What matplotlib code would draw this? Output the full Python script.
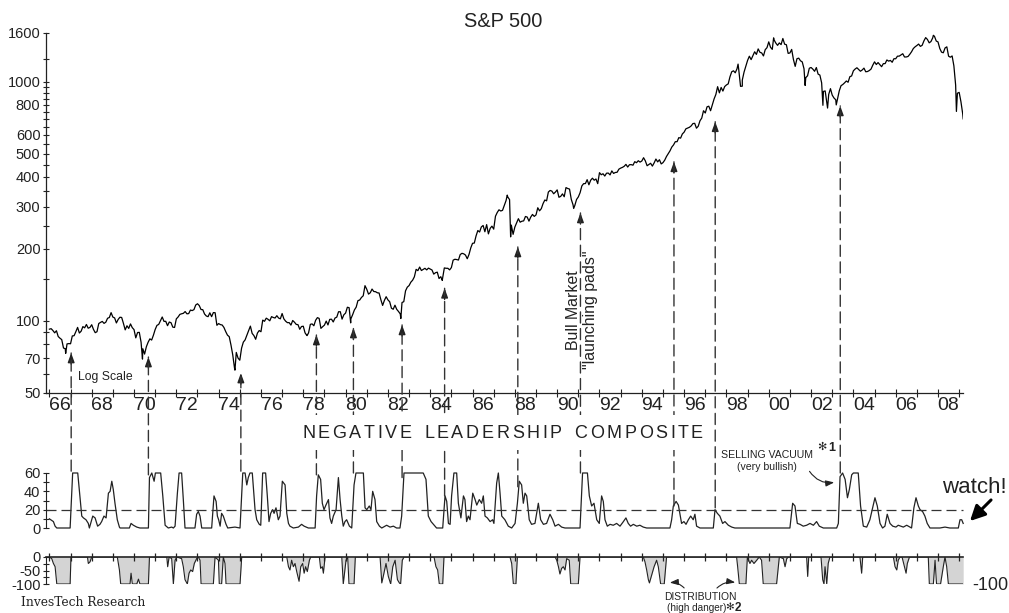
import numpy as np
import matplotlib
matplotlib.use("Agg")
import matplotlib.pyplot as plt
from matplotlib.patches import ConnectionPatch, Rectangle, FancyArrowPatch
from matplotlib.ticker import FixedLocator, FixedFormatter, NullFormatter

plt.rcParams['font.family'] = ['Liberation Sans', 'DejaVu Sans']
plt.rcParams['axes.unicode_minus'] = False

# S&P 500 month-end closes, Dec 1965 .. Feb 2009
sp_monthly = [
    92.43,
    92.88, 91.22, 89.23, 91.06, 86.13, 84.74, 83.60, 77.10, 76.56, 80.20, 80.45, 80.33,
    86.61, 86.78, 90.20, 94.01, 89.08, 90.64, 94.75, 93.64, 96.71, 93.30, 94.00, 96.47,
    92.24, 89.36, 90.20, 97.59, 98.68, 99.58, 97.74, 98.86, 102.67, 103.41, 108.37, 103.86,
    103.01, 98.13, 101.51, 103.69, 103.46, 97.71, 91.83, 95.51, 93.12, 97.24, 93.81, 92.06,
    85.02, 89.50, 89.63, 81.52, 76.55, 72.72, 78.05, 81.52, 84.21, 83.25, 87.20, 92.15,
    95.88, 96.75, 100.31, 103.95, 99.63, 99.70, 95.58, 99.03, 98.34, 94.23, 93.99, 102.09,
    103.94, 106.57, 107.20, 107.67, 109.53, 107.14, 107.39, 111.09, 110.55, 111.58, 116.67, 118.05,
    116.03, 111.68, 111.52, 106.97, 104.95, 104.26, 108.22, 104.25, 108.43, 108.29, 95.96, 97.55,
    96.57, 96.22, 93.98, 90.31, 87.28, 86.00, 79.31, 72.15, 63.54, 73.90, 69.97, 68.56,
    76.98, 81.59, 83.36, 87.30, 91.15, 95.19, 88.75, 86.88, 83.87, 89.04, 91.24, 90.19,
    100.86, 99.71, 102.77, 101.64, 100.18, 104.28, 103.44, 102.91, 105.24, 102.90, 102.10, 107.46,
    102.03, 99.82, 98.42, 98.44, 96.12, 100.48, 98.85, 96.77, 96.53, 92.34, 94.83, 95.10,
    89.25, 87.04, 89.21, 96.83, 97.24, 95.53, 100.68, 103.29, 102.54, 93.15, 94.70, 96.11,
    99.93, 96.28, 101.59, 101.76, 99.08, 102.91, 103.81, 109.32, 109.32, 101.82, 106.16, 107.94,
    114.16, 113.66, 102.09, 106.29, 111.24, 114.24, 121.67, 122.38, 125.46, 127.47, 140.52, 135.76,
    129.55, 131.27, 136.00, 132.81, 132.59, 131.21, 130.92, 122.79, 116.18, 121.89, 126.35, 122.55,
    120.40, 113.11, 111.96, 116.44, 111.88, 109.61, 107.09, 119.51, 120.42, 133.71, 138.54, 140.64,
    145.30, 148.06, 152.96, 164.42, 162.39, 168.11, 162.56, 164.40, 166.07, 163.55, 166.40, 164.93,
    163.41, 157.06, 159.18, 160.05, 150.55, 153.18, 150.66, 166.68, 166.10, 166.09, 163.58, 167.24,
    179.63, 181.18, 180.66, 179.83, 189.55, 191.85, 190.92, 188.63, 182.08, 189.82, 202.17, 211.28,
    211.78, 226.92, 238.90, 235.52, 247.35, 250.84, 236.12, 252.93, 231.32, 243.98, 249.22, 242.17,
    274.08, 284.20, 291.70, 288.36, 290.10, 304.00, 318.66, 329.80, 321.83, 251.79, 230.30, 247.08,
    257.07, 267.82, 258.89, 261.33, 262.16, 273.50, 272.02, 261.52, 271.91, 278.97, 273.70, 277.72,
    297.47, 288.86, 294.87, 309.64, 320.52, 317.98, 346.08, 351.45, 349.15, 340.36, 345.99, 353.40,
    329.08, 331.89, 339.94, 330.80, 361.23, 358.02, 356.15, 322.56, 306.05, 304.00, 322.22, 330.22,
    343.93, 367.07, 375.22, 375.35, 389.83, 371.16, 387.81, 395.43, 387.86, 392.45, 375.22, 417.09,
    408.79, 412.70, 403.69, 414.95, 415.35, 408.14, 424.21, 414.03, 417.80, 418.68, 431.35, 435.71,
    438.78, 443.38, 451.67, 440.19, 450.19, 450.53, 448.13, 463.56, 458.93, 467.83, 461.79, 466.45,
    481.61, 467.14, 445.77, 450.91, 456.50, 444.27, 458.26, 475.49, 462.69, 472.35, 453.69, 459.27,
    470.42, 487.39, 500.71, 514.71, 533.40, 544.75, 562.06, 561.88, 584.41, 581.50, 605.37, 615.93,
    636.02, 640.43, 645.50, 654.17, 669.12, 670.63, 639.95, 651.99, 687.33, 705.27, 757.02, 740.74,
    786.16, 790.82, 757.12, 801.34, 848.28, 885.14, 954.31, 899.47, 947.28, 914.62, 955.40, 970.43,
    980.28, 1049.34, 1101.75, 1111.75, 1090.82, 1133.84, 1120.67, 957.28, 1017.01, 1098.67, 1163.63, 1229.23,
    1279.64, 1238.33, 1286.37, 1335.18, 1301.84, 1372.71, 1328.72, 1320.41, 1282.71, 1362.93, 1388.91, 1469.25,
    1394.46, 1366.42, 1498.58, 1452.43, 1420.60, 1454.60, 1430.83, 1517.68, 1436.51, 1429.40, 1314.95, 1320.28,
    1366.01, 1239.94, 1160.33, 1249.46, 1255.82, 1224.38, 1211.23, 1133.58, 1040.94, 1059.78, 1139.45, 1148.08,
    1130.20, 1106.73, 1147.39, 1076.92, 1067.14, 989.82, 911.62, 916.07, 815.28, 885.76, 936.31, 879.82,
    855.70, 841.15, 848.18, 916.92, 963.59, 974.50, 990.31, 1008.01, 995.97, 1050.71, 1058.20, 1111.92,
    1131.13, 1144.94, 1126.21, 1107.30, 1120.68, 1140.84, 1101.72, 1104.24, 1114.58, 1130.20, 1173.82, 1211.92,
    1181.27, 1203.60, 1180.59, 1156.85, 1191.50, 1191.33, 1234.18, 1220.33, 1228.81, 1207.01, 1249.48, 1248.29,
    1280.08, 1280.66, 1294.83, 1310.61, 1270.09, 1270.20, 1276.66, 1303.82, 1335.85, 1377.94, 1400.63, 1418.30,
    1438.24, 1406.82, 1420.86, 1482.37, 1530.62, 1503.35, 1455.27, 1473.99, 1526.75, 1549.38, 1481.14, 1468.36,
    1378.55, 1330.63, 1322.70, 1385.59, 1400.38, 1280.00, 1267.38, 1282.83, 1166.36, 968.75, 896.24, 903.25,
    825.88, 735.09,
]
sp_first_year = 1966.0

# weekly extremes that month-end closes miss
sp_extra_t = [1966.77, 1970.40, 1974.77, 1978.18, 1980.24, 1982.61, 1984.57, 1987.64, 1987.80,
              1990.78, 1998.55, 1998.75, 2000.23, 2001.72, 2002.56, 2002.78, 2003.19, 2007.78,
              2008.87, 2009.19]
sp_extra_v = [73.2, 69.3, 62.3, 86.9, 98.2, 102.4, 147.8, 336.0, 224.8,
              295.5, 1186.0, 959.0, 1527.0, 965.8, 797.7, 776.8, 800.7, 1565.0,
              752.0, 700.0]

# Negative Leadership Composite (upper sub-panel, 0..60)
comp_t = [1966.00, 1966.19, 1966.27, 1966.35, 1966.98, 1967.10, 1967.34, 1967.53, 1967.61, 1967.73,
          1967.84, 1967.89, 1968.05, 1968.16, 1968.28, 1968.39, 1968.47, 1968.58, 1968.68, 1968.79,
          1968.87, 1968.95, 1969.02, 1969.10, 1969.21, 1969.31, 1969.34, 1969.78, 1969.86, 1969.97,
          1970.13, 1970.28, 1970.68, 1970.73, 1970.84, 1970.95, 1971.01, 1971.26, 1971.36, 1971.47,
          1971.62, 1971.78, 1971.86, 1971.94, 1972.05, 1972.13, 1972.25, 1972.33, 1972.41, 1972.88,
          1972.96, 1973.04, 1973.12, 1973.20, 1973.67, 1973.78, 1973.88, 1973.94, 1974.00, 1974.07,
          1974.14, 1974.22, 1974.35, 1974.43, 1974.77, 1975.01, 1975.14, 1975.25, 1975.33, 1975.40,
          1975.48, 1975.59, 1975.72, 1975.80, 1975.92, 1975.99, 1976.08, 1976.22, 1976.30, 1976.38,
          1976.46, 1976.55, 1976.62, 1976.71, 1976.82, 1976.90, 1977.01, 1977.14, 1977.22, 1977.30,
          1977.37, 1977.53, 1977.77, 1977.92, 1978.04, 1978.24, 1978.56, 1978.63, 1978.71, 1978.82,
          1978.90, 1978.98, 1979.07, 1979.19, 1979.26, 1979.34, 1979.42, 1979.55, 1979.66, 1979.74,
          1979.82, 1979.89, 1979.97, 1980.05, 1980.18, 1980.29, 1980.40, 1980.49, 1980.84, 1980.92,
          1981.00, 1981.12, 1981.20, 1981.28, 1981.39, 1981.47, 1981.60, 1981.71, 1981.94, 1982.10,
          1982.26, 1982.41, 1982.57, 1982.65, 1982.76, 1983.67, 1983.80, 1983.91, 1984.04, 1984.15,
          1984.30, 1984.59, 1984.70, 1984.78, 1984.86, 1984.94, 1985.01, 1985.12, 1985.25, 1985.33,
          1985.45, 1985.57, 1985.64, 1985.72, 1985.80, 1985.88, 1986.01, 1986.12, 1986.20, 1986.32,
          1986.43, 1986.51, 1986.59, 1986.70, 1986.83, 1986.95, 1987.01, 1987.14, 1987.22, 1987.30,
          1987.38, 1987.53, 1987.69, 1987.85, 1988.01, 1988.12, 1988.21, 1988.32, 1988.40, 1988.48,
          1988.56, 1988.68, 1988.79, 1988.95, 1989.11, 1989.22, 1989.35, 1989.50, 1989.66, 1989.79,
          1989.90, 1990.06, 1990.21, 1990.37, 1991.08, 1991.20, 1991.43, 1991.52, 1991.63, 1991.74,
          1991.87, 1991.99, 1992.10, 1992.18, 1992.26, 1992.37, 1992.50, 1992.65, 1992.81, 1992.97,
          1993.13, 1993.25, 1993.36, 1993.47, 1993.60, 1993.76, 1993.91, 1994.07, 1994.23, 1995.33,
          1995.41, 1995.49, 1995.62, 1995.73, 1995.88, 1995.99, 1996.09, 1996.20, 1996.31, 1996.43,
          1996.51, 1996.59, 1996.75, 1997.38, 1997.46, 1997.57, 1997.69, 1997.82, 1997.93, 1998.09,
          1998.25, 1998.40, 2001.00, 2001.13, 2001.24, 2001.35, 2001.48, 2001.63, 2001.79, 2001.95,
          2002.11, 2002.26, 2002.39, 2002.58, 2003.21, 2003.29, 2003.37, 2003.49, 2003.61, 2003.72,
          2003.81, 2003.92, 2004.00, 2004.23, 2004.34, 2004.47, 2004.63, 2004.78, 2004.91, 2005.02,
          2005.13, 2005.26, 2005.38, 2005.49, 2005.60, 2005.73, 2005.86, 2006.01, 2006.12, 2006.36,
          2006.52, 2006.75, 2006.86, 2006.96, 2007.07, 2007.15, 2007.27, 2007.38, 2007.49, 2007.62,
          2008.09, 2008.33, 2008.56, 2008.96, 2009.04, 2009.12, 2009.19]
comp_v = [10, 7, 2, 0, 0, 60, 60, 13, 11, 9,
          5, 0, 13, 11, 2, 4, 7, 13, 11, 38,
          40, 51, 42, 27, 9, 1, 0, 0, 5, 3,
          1, 0, 0, 55, 60, 51, 60, 60, 35, 3,
          0, 1, 0, 2, 38, 60, 60, 31, 0, 0,
          15, 18, 13, 0, 0, 35, 29, 13, 9, 2,
          16, 13, 4, 0, 1, 0, 60, 60, 47, 55,
          60, 60, 20, 9, 4, 3, 60, 60, 35, 7,
          16, 20, 16, 22, 9, 13, 51, 47, 16, 5,
          2, 0, 1, 4, 2, 0, 0, 35, 58, 53,
          27, 20, 25, 31, 11, 5, 13, 20, 55, 31,
          13, 2, 7, 9, 2, 0, 47, 60, 60, 22,
          20, 24, 20, 40, 31, 7, 2, 0, 3, 1,
          2, 0, 0, 13, 60, 60, 53, 13, 7, 4,
          0, 0, 35, 29, 5, 4, 35, 60, 60, 27,
          11, 35, 31, 7, 13, 9, 38, 31, 25, 31,
          27, 35, 13, 11, 7, 9, 5, 49, 60, 38,
          13, 9, 2, 0, 5, 27, 51, 47, 27, 38,
          35, 9, 4, 5, 27, 9, 4, 5, 15, 9,
          2, 4, 1, 0, 0, 60, 60, 35, 24, 27,
          9, 5, 35, 29, 9, 2, 4, 3, 5, 2,
          7, 11, 5, 2, 4, 2, 3, 1, 0, 0,
          9, 24, 29, 25, 5, 7, 4, 9, 13, 9,
          15, 2, 0, 0, 20, 16, 13, 5, 7, 3,
          1, 0, 0, 27, 24, 5, 4, 2, 3, 5,
          3, 7, 2, 0, 0, 5, 56, 60, 53, 33,
          42, 58, 60, 60, 24, 2, 1, 9, 22, 33,
          24, 5, 0, 2, 15, 5, 2, 1, 3, 1,
          3, 0, 22, 33, 24, 20, 18, 13, 5, 0,
          0, 1, 0, 0, 9, 9, 5]

# Distribution (lower sub-panel, 0..-100)
dist_t = [1966.00, 1966.11, 1966.19, 1966.27, 1966.35, 1966.98, 1967.02, 1967.80, 1967.84, 1967.92,
          1968.00, 1969.21, 1969.31, 1969.37, 1969.81, 1969.86, 1969.92, 1970.13, 1970.21, 1970.28,
          1970.68, 1970.73, 1971.55, 1971.59, 1971.66, 1971.78, 1971.86, 1971.94, 1972.02, 1972.25,
          1972.33, 1972.41, 1972.52, 1972.60, 1972.68, 1972.77, 1972.85, 1972.96, 1973.04, 1973.12,
          1973.17, 1973.75, 1973.83, 1973.99, 1974.03, 1974.14, 1974.22, 1974.30, 1974.35, 1975.01,
          1975.09, 1977.22, 1977.30, 1977.37, 1977.45, 1977.53, 1977.61, 1977.69, 1977.80, 1977.88,
          1977.97, 1978.04, 1978.11, 1978.19, 1978.29, 1978.35, 1978.76, 1978.82, 1978.90, 1978.95,
          1979.03, 1979.82, 1979.89, 1980.02, 1980.10, 1980.16, 1980.40, 1980.46, 1981.63, 1981.71,
          1981.78, 1981.91, 1982.02, 1982.13, 1982.23, 1982.34, 1982.45, 1982.54, 1982.60, 1982.68,
          1982.76, 1984.18, 1984.27, 1984.35, 1984.43, 1984.59, 1984.65, 1987.77, 1987.85, 1987.93,
          1988.05, 1988.12, 1989.90, 1989.98, 1990.06, 1990.13, 1990.21, 1990.29, 1990.37, 1990.45,
          1990.57, 1990.64, 1991.00, 1991.08, 1994.07, 1994.15, 1994.23, 1994.31, 1994.36, 1994.47,
          1994.58, 1994.70, 1994.78, 1994.89, 1995.06, 1995.17, 1998.48, 1998.53, 1998.61, 1998.92,
          1998.99, 1999.11, 1999.19, 1999.30, 1999.43, 1999.55, 1999.66, 1999.74, 2000.37, 2000.50,
          2000.69, 2000.77, 2000.85, 2000.93, 2001.79, 2001.84, 2001.89, 2002.47, 2002.55, 2002.61,
          2002.66, 2002.74, 2002.81, 2002.89, 2004.31, 2004.39, 2004.44, 2005.89, 2005.97, 2006.05,
          2006.12, 2006.20, 2006.30, 2006.49, 2006.55, 2006.65, 2007.54, 2007.59, 2007.78, 2007.86,
          2007.93, 2008.12, 2008.25, 2008.33, 2008.41, 2008.49, 2009.19]
dist_v = [0, -6, -24, -36, -100, -100, 0, 0, -24, -18,
          0, 0, -48, -100, -100, -60, -100, -100, -82, -100,
          -100, 0, 0, -36, 0, -6, -100, -12, 0, -6,
          -36, -84, -100, -60, -48, -54, -24, -6, 0, -12,
          -100, -100, 0, -12, -100, -100, 0, -24, -100, -100,
          0, 0, -36, -48, -12, -36, -24, -54, -90, -36,
          -24, -60, -36, -54, -12, 0, 0, -42, -36, -60,
          0, 0, -100, -12, 0, -100, -100, 0, 0, -96,
          -72, -24, -72, -100, -36, -12, -84, -96, -100, -12,
          0, 0, -36, -48, -100, -100, 0, 0, -24, -100,
          -100, 0, 0, -12, -36, -63, -42, -36, -48, -6,
          -12, -100, -100, 0, 0, -18, -48, -84, -96, -66,
          -36, -12, -36, -100, -100, 0, 0, -36, -100, -100,
          0, -24, -12, -24, -12, 0, -12, -100, -100, 0,
          -6, -36, -6, 0, 0, -72, 0, 0, -84, -100,
          -36, -100, -24, 0, 0, -60, 0, 0, -36, -48,
          -12, 0, 0, -60, -24, 0, 0, -100, -100, -12,
          -100, -100, -36, 0, -36, -100, -100]

# "launching pad" signals: date, S&P level at arrow tip, composite level at the foot
sig_t = [1967.03, 1970.68, 1975.05, 1978.62, 1980.37, 1982.67, 1984.68, 1988.14, 1991.10,
         1995.52, 1997.47, 2003.38]
sig_tip = [73.5, 70.7, 60.6, 87.4, 93.5, 96.3, 137, 204, 283, 463, 681, 793]
sig_foot = [62, 58, 62, 58, 60, 55, 35, 45, 60, 24, 22, 60]

year_labels = ['66', '68', '70', '72', '74', '76', '78', '80', '82', '84', '86', '88',
               '90', '92', '94', '96', '98', '00', '02', '04', '06', '08']
y_major = [50, 70, 100, 200, 300, 400, 500, 600, 800, 1000, 1600]
y_minor = [60, 80, 90, 150, 250, 350, 450, 550, 650, 700, 750, 850, 900, 950, 1250]

assert len(comp_t) == len(comp_v) and len(dist_t) == len(dist_v)

W, H = 1009, 613
def fx(px):
    return px / W
def fy(py):
    return 1 - py / H

INK = '#222222'
DASH = (0, (8, 4))
XL = (1965.84, 2009.2)

fig = plt.figure(figsize=(W / 100, H / 100), dpi=100)
ax = fig.add_axes([fx(46), fy(393), fx(963.4) - fx(46), fy(33) - fy(393)])
axc = fig.add_axes([fx(46), fy(528), fx(963.4) - fx(46), 55 / H])
axd = fig.add_axes([fx(46), fy(584), fx(963.4) - fx(46), 27 / H])
for a in (ax, axc, axd):
    a.set_facecolor('none')
    a.set_xlim(XL)
    for s in ('top', 'right'):
        a.spines[s].set_visible(False)

# ---- S&P 500 panel
sp_t = sp_first_year + np.arange(len(sp_monthly)) / 12.0
t_all = np.concatenate([sp_t, sp_extra_t])
v_all = np.concatenate([sp_monthly, sp_extra_v])
order = np.argsort(t_all)
ax.plot(t_all[order], v_all[order], color='black', lw=0.9)
ax.set_yscale('log')
ax.set_ylim(50, 1600)
ax.yaxis.set_major_locator(FixedLocator(y_major))
ax.yaxis.set_major_formatter(FixedFormatter([str(v) for v in y_major]))
ax.yaxis.set_minor_locator(FixedLocator(y_minor))
ax.yaxis.set_minor_formatter(NullFormatter())
ax.tick_params(axis='y', which='both', direction='inout', length=4, width=0.8,
               labelsize=10.5, pad=2, colors=INK)
ax.set_xticks(np.arange(1966, 2010))
ax.set_xticklabels([])
ax.set_xticks(np.arange(1966, 2009, 2) + 0.5, minor=True)
ax.set_xticklabels(year_labels, minor=True)
for lab in ax.get_xticklabels(minor=True):
    lab.set_fontfamily(['Liberation Sans Narrow', 'Liberation Sans'])
    lab.set_fontsize(14)
ax.tick_params(axis='x', which='major', direction='inout', length=6, width=0.8, colors=INK)
ax.tick_params(axis='x', which='minor', length=0, pad=3, colors=INK)
for s in ('left', 'bottom'):
    ax.spines[s].set_linewidth(0.9)
    ax.spines[s].set_color(INK)

# ---- composite panel
axc.plot(comp_t, comp_v, color=INK, lw=0.9, clip_on=False)
axc.plot(XL, [20, 20], color='#333333', lw=0.9, ls=DASH, clip_on=False)
axc.set_ylim(0, 60)
axc.spines['bottom'].set_visible(False)
axc.spines['left'].set_color(INK)
axc.set_xticks([])
axc.set_yticks([0, 20, 40, 60])
axc.set_yticks([10, 30, 50], minor=True)
axc.tick_params(axis='y', which='both', direction='inout', length=4, width=0.8,
                labelsize=10.5, pad=2, colors=INK)

# ---- distribution panel
axd.fill_between(dist_t, dist_v, 0, color='#d4d4d4', lw=0)
axd.plot(dist_t, dist_v, color=INK, lw=0.8)
axd.plot(XL, [0, 0], color=INK, lw=1.2, clip_on=False)
yrs = np.arange(1966, 2010)
axd.plot(yrs, np.zeros(len(yrs)), ls='none', marker='|', ms=6, mew=0.9, color=INK, clip_on=False)
axd.set_ylim(-100, 0)
axd.spines['bottom'].set_visible(False)
axd.spines['left'].set_color(INK)
axd.set_xticks([])
axd.set_yticks([0, -50, -100])
axd.set_yticks([-25, -75], minor=True)
axd.tick_params(axis='y', which='both', direction='inout', length=4, width=0.8,
                labelsize=10.5, pad=2, colors=INK)

# ---- dashed signal lines with arrowheads
for t, tip, foot in zip(sig_t, sig_tip, sig_foot):
    cp = ConnectionPatch(xyA=(t, foot), coordsA=axc.transData, xyB=(t, tip), coordsB=ax.transData,
                         color='#333333', lw=1.0, ls=DASH, zorder=1.5)
    fig.add_artist(cp)
    ax.annotate('', xy=(t, tip), xycoords='data', xytext=(0, -8), textcoords='offset points',
                arrowprops=dict(arrowstyle='-|>,head_length=0.55,head_width=0.2', color=INK,
                                lw=1.0, shrinkA=0, shrinkB=0))

# ---- texts
fig.text(fx(503), fy(27), 'S&P 500', ha='center', va='baseline', fontsize=14.4, color=INK)
fig.text(fx(105), fy(377), 'Log Scale', ha='center', va='center', fontsize=8.8, color=INK)
fig.text(fx(582), fy(310), 'Bull Market\n"launching pads"', rotation=90, ha='center',
         va='center', fontsize=11.4, linespacing=1.25, multialignment='center', color=INK)

# letter-spaced section title with white knock-out
fig.add_artist(Rectangle((fx(296), fy(450)), fx(709) - fx(296), 35 / H, transform=fig.transFigure,
                         facecolor='white', edgecolor='none', zorder=2))
title = 'NEGATIVE LEADERSHIP COMPOSITE'
renderer = fig.canvas.get_renderer()
widths = []
for ch in title:
    if ch == ' ':
        widths.append(0)
        continue
    tmp = fig.text(0, 0, ch, fontsize=13)
    widths.append(tmp.get_window_extent(renderer).width)
    tmp.remove()
n_letters = sum(1 for ch in title if ch != ' ')
space_px = 10
gap = (703 - 302 - sum(widths) - space_px * title.count(' ')) / (n_letters - 1)
xpos = 302
for ch, w in zip(title, widths):
    if ch == ' ':
        xpos += space_px
        continue
    fig.text(fx(xpos), fy(438), ch, fontsize=13, va='baseline', ha='left', color=INK, zorder=3)
    xpos += w + gap

fig.text(fx(721), fy(458), 'SELLING VACUUM', fontsize=7.6, va='baseline', color=INK)
fig.text(fx(817), fy(450), '\u273b', fontsize=8, va='baseline', family='DejaVu Sans', color=INK)
fig.text(fx(828), fy(451), '1', fontsize=9, va='baseline', fontweight='bold', color=INK)
fig.text(fx(767), fy(467), '(very bullish)', fontsize=7.6, ha='center', va='center', color=INK)
fig.add_artist(FancyArrowPatch((fx(808), fy(469)), (fx(837), fy(482)), transform=fig.transFigure,
                               connectionstyle='arc3,rad=0.35',
                               arrowstyle='-|>,head_length=5,head_width=1.8', mutation_scale=1,
                               lw=0.8, color=INK))

fig.text(fx(700), fy(597), 'DISTRIBUTION', fontsize=7.4, ha='center', va='center', color=INK)
fig.text(fx(697), fy(611), '(high danger)', fontsize=7.2, ha='center', va='baseline', color=INK)
fig.text(fx(725), fy(610), '\u273b', fontsize=7.5, va='baseline', family='DejaVu Sans', color=INK)
fig.text(fx(735), fy(611), '2', fontsize=8.5, va='baseline', fontweight='bold', color=INK)
fig.add_artist(FancyArrowPatch((fx(686), fy(590)), (fx(667), fy(583)), transform=fig.transFigure,
                               connectionstyle='arc3,rad=0.3',
                               arrowstyle='-|>,head_length=5,head_width=1.8', mutation_scale=1,
                               lw=0.8, color=INK))
fig.add_artist(FancyArrowPatch((fx(715), fy(590)), (fx(738), fy(583)), transform=fig.transFigure,
                               connectionstyle='arc3,rad=-0.3',
                               arrowstyle='-|>,head_length=5,head_width=1.8', mutation_scale=1,
                               lw=0.8, color=INK))

fig.text(fx(942), fy(493), 'watch!', fontsize=16, va='baseline', color=INK)
fig.add_artist(FancyArrowPatch((fx(993), fy(498)), (fx(968), fy(523)), transform=fig.transFigure,
                               arrowstyle='-|>,head_length=9,head_width=4.5', mutation_scale=1,
                               lw=2.2, color='black'))
fig.text(fx(972), fy(585), '-100', fontsize=13, va='center', color=INK)
fig.text(fx(21), fy(606), 'InvesTech Research', fontsize=8.8, va='baseline',
         family='DejaVu Serif', color=INK)

fig.savefig('out.png', dpi=100)
